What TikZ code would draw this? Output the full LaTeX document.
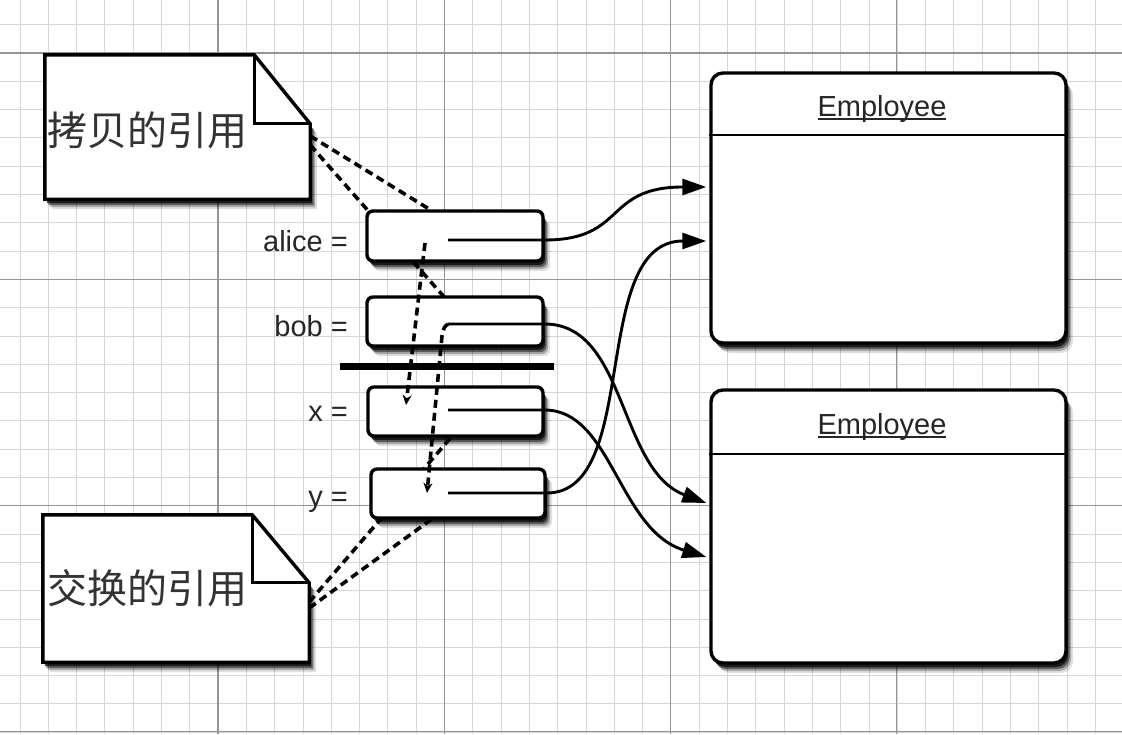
\documentclass[tikz,border=0pt]{standalone}
\usepackage{fontspec}
\setmainfont{Liberation Sans}
\newfontfamily\cjk{Noto Sans CJK SC}
\usetikzlibrary{arrows.meta,shadows}
\newcommand\myul[1]{\setbox0\hbox{#1}\rlap{\rule[-3.5pt]{\wd0}{1.8pt}}\box0}
\tikzset{
  minorgrid/.style={draw=black!16, line width=0.9pt},
  majorgrid/.style={draw=black!42, line width=1.1pt},
  shad/.style={
    drop shadow={shadow xshift=7pt, shadow yshift=-10pt, opacity=0.12, fill=black},
    drop shadow={shadow xshift=5pt, shadow yshift=-8pt, opacity=0.25, fill=black},
    drop shadow={shadow xshift=3.5pt, shadow yshift=-6pt, opacity=0.45, fill=black},
    drop shadow={shadow xshift=2pt, shadow yshift=-4pt, opacity=0.7, fill=black}},
  notebox/.style={draw=none, inner sep=0, minimum width=#1},
  notepath/.style={draw=black, line width=3.4pt, fill=white, line join=miter, shad},
  smallbox/.style={draw=black, line width=3.4pt, fill=white, rounded corners=6pt, minimum width=176pt, minimum height=50pt, inner sep=0, shad},
  empbox/.style={draw=black, line width=3.4pt, fill=white, rounded corners=12pt, minimum width=355pt, inner sep=0, shad},
  lbl/.style={anchor=base east, inner sep=0, font=\fontsize{29pt}{32pt}\selectfont, text=black!85},
  cjktext/.style={anchor=west, inner sep=0, font=\cjk\fontsize{40pt}{44pt}\selectfont, text=black!80},
  emptitle/.style={anchor=base, inner sep=0, font=\fontsize{29pt}{32pt}\selectfont, text=black!85},
  ptr/.style={draw=black, line width=2.9pt},
  ptrarrow/.style={ptr, -{Triangle[length=24pt,width=16pt]}},
  notedash/.style={draw=black, line width=3.6pt, dash pattern=on 8pt off 5pt},
  copydash/.style={draw=black, line width=3.6pt, dash pattern=on 8pt off 5pt, -{Stealth[length=10pt,width=9pt]}}
}
\begin{document}
\begin{tikzpicture}[x=1pt,y=-1pt]
\useasboundingbox (0,0) rectangle (1122,734);
\fill[white] (0,0) rectangle (1122,734);
% grid
\foreach \i in {0,...,38} {\pgfmathsetmacro\xx{20+28.3*\i}\draw[minorgrid] (\xx,0) -- (\xx,734);}
\foreach \i in {0,...,25} {\pgfmathsetmacro\yy{24.7+28.3*\i}\draw[minorgrid] (0,\yy) -- (1122,\yy);}
\foreach \xx in {218,444.3,670.6,896.9} {\draw[majorgrid] (\xx,0) -- (\xx,734);}
\foreach \yy in {53,279.3,505.6,731.9} {\draw[majorgrid] (0,\yy) -- (1122,\yy);}

% node placeholders
\node[notebox=265pt, minimum height=144pt] (n1) at (177.5,127) {};
\node[notebox=266pt, minimum height=147pt] (n2) at (176,588.5) {};
\path (455,236) coordinate (alicec) (455,321.5) coordinate (bobc) (455.5,411.5) coordinate (xc) (458,493.5) coordinate (yc);
\node[draw=none, minimum width=176pt, minimum height=50pt, inner sep=0] (alice0) at (alicec) {};
\node[draw=none, minimum width=176pt, minimum height=49pt, inner sep=0] (bob0) at (bobc) {};
\node[draw=none, minimum width=175pt, minimum height=49pt, inner sep=0] (x0) at (xc) {};
\node[draw=none, minimum width=174pt, minimum height=49pt, inner sep=0] (y0) at (yc) {};

% dashed note connectors (behind boxes)
\draw[notedash] ([yshift=-9pt]n1.east) -- ([xshift=-23pt]alice0.north);
\draw[notedash] ([yshift=-18pt]n1.east) -- ([xshift=-11pt]bob0.north);
\draw[notedash] ([yshift=-13.5pt]n2.east) -- ([xshift=-3.5pt]x0.south);
\draw[notedash] ([yshift=-19.5pt]n2.east) -- ([xshift=-25pt]y0.south);

% notes
\path[notepath] (n1.north west) -- ([xshift=-56pt]n1.north east) -- ([yshift=-69pt]n1.north east) -- (n1.south east) -- (n1.south west) -- cycle;
\draw[line width=3.2pt, line join=miter] ([xshift=-56pt]n1.north east) |- ([yshift=-69pt]n1.north east);
\path[notepath] (n2.north west) -- ([xshift=-57pt]n2.north east) -- ([yshift=-68pt]n2.north east) -- (n2.south east) -- (n2.south west) -- cycle;
\draw[line width=3.2pt, line join=miter] ([xshift=-57pt]n2.north east) |- ([yshift=-68pt]n2.north east);
\node[cjktext] (t1) at (47,130) {拷贝的引用};
\node[cjktext] (t2) at (47,588) {交换的引用};

% reference boxes
\node[smallbox] (alice) at (alicec) {};
\node[smallbox, minimum height=49pt] (bob) at (bobc) {};
\node[smallbox, minimum width=175pt, minimum height=49pt] (x) at (xc) {};
\node[smallbox, minimum width=174pt, minimum height=49pt] (y) at (yc) {};
\node[fill=black, inner sep=0, minimum width=214pt, minimum height=7pt] (bar) at (447,366) {};

% labels
\node[lbl] (la) at (348,251) {alice =};
\node[lbl] (lb) at (348,336) {bob =};
\node[lbl] (lx) at (348,421) {x =};
\node[lbl] (ly) at (348,506) {y =};

% employee boxes
\node[empbox, minimum height=270pt] (e1) at (888.5,208) {};
\draw[line width=2.2pt] ([yshift=-64pt]e1.north west) -- ([yshift=-64pt]e1.north east);
\node[emptitle] (e1t) at (882,116) {\myul{Employee}};
\node[empbox, minimum height=273pt] (e2) at (888.5,526.5) {};
\draw[line width=2.2pt] ([yshift=-66pt]e2.north west) -- ([yshift=-66pt]e2.north east);
\node[emptitle] (e2t) at (882,434) {\myul{Employee}};

% pointer starts
\coordinate (pa) at (448,240);
\coordinate (pb) at (448,324);
\coordinate (px) at (448,410);
\coordinate (py) at (448,493);
\coordinate (ca) at (425,243);
\coordinate (cx) at (406,405);
\coordinate (cb) at (442,336);
\coordinate (cy) at (427,493);

% pointers
\draw[ptrarrow] (pa) -- (alice.east |- pa) .. controls +(82,0) and +(-103,0) .. ([xshift=-3pt,yshift=21pt]e1.west);
\draw[ptrarrow] (pb) -- (bob.east |- pb) .. controls +(82,0) and +(-88,-33) .. ([xshift=-3pt,yshift=23.5pt]e2.west);
\draw[ptrarrow] (px) -- (x.east |- px) .. controls +(67,0) and +(-88,-27) .. ([xshift=-3pt,yshift=-30.5pt]e2.west);
\draw[ptrarrow] (py) -- (y.east |- py) .. controls +(95,0) and +(-118,0) .. ([xshift=-3pt,yshift=-33pt]e1.west);

% copy arrows
\draw[copydash] (ca) -- (cx);
\draw[copydash] (pb) .. controls (444,327) .. (cb) -- (cy);
\end{tikzpicture}
\end{document}
